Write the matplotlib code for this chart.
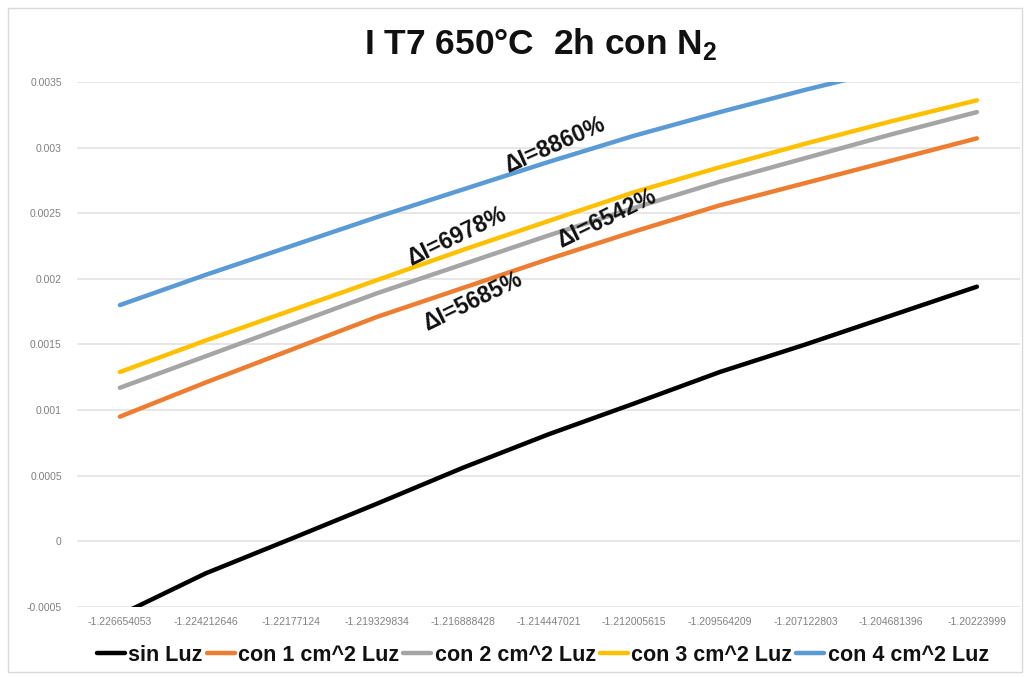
import matplotlib
matplotlib.use("Agg")
import matplotlib.pyplot as plt
from matplotlib.patches import Rectangle

# Applied potential (category labels) and measured current for each illumination area
potential = ["-1.226654053", "-1.224212646", "-1.22177124", "-1.219329834",
             "-1.216888428", "-1.214447021", "-1.212005615", "-1.209564209",
             "-1.207122803", "-1.204681396", "-1.20223999"]

sin_luz = [-0.00056, -0.000244, 0.00002, 0.000287, 0.00056, 0.000815,
           0.00105, 0.00129, 0.00150, 0.00172, 0.00194]
con_1cm2 = [0.00095, 0.00121, 0.00146, 0.00171, 0.00193, 0.00215,
            0.00236, 0.00256, 0.00273, 0.00290, 0.00307]
con_2cm2 = [0.00117, 0.00141, 0.00165, 0.00189, 0.00211, 0.00233,
            0.00254, 0.00274, 0.00292, 0.00310, 0.00327]
con_3cm2 = [0.00129, 0.00153, 0.00176, 0.00199, 0.00222, 0.00244,
            0.00266, 0.00285, 0.00303, 0.00320, 0.00336]
con_4cm2 = [0.00180, 0.00203, 0.00225, 0.00247, 0.00268, 0.00289,
            0.00309, 0.00327, 0.00344, 0.00360, 0.00375]

series_names = ["sin Luz", "con 1 cm^2 Luz", "con 2 cm^2 Luz",
                "con 3 cm^2 Luz", "con 4 cm^2 Luz"]
series_values = [sin_luz, con_1cm2, con_2cm2, con_3cm2, con_4cm2]
series_colors = ["#000000", "#ED7D31", "#A5A5A5", "#FFC000", "#5B9BD5"]

yticks = [-0.0005, 0, 0.0005, 0.001, 0.0015, 0.002, 0.0025, 0.003, 0.0035]
ytick_labels = ["-0.0005", "0", "0.0005", "0.001", "0.0015", "0.002",
                "0.0025", "0.003", "0.0035"]

plt.rcParams["font.family"] = ["Liberation Sans", "DejaVu Sans"]
plt.rcParams["mathtext.fontset"] = "custom"
plt.rcParams["mathtext.bf"] = "Liberation Sans:bold"
plt.rcParams["mathtext.rm"] = "Liberation Sans"

fig = plt.figure(figsize=(10.30, 6.77), dpi=100)
ax = fig.add_axes([0.0748, 0.1034, 0.9152, 0.7756])

xs = list(range(len(potential)))
handles = []
for name, vals, col in zip(series_names, series_values, series_colors):
    h, = ax.plot(xs, vals, color=col, lw=3.2, solid_capstyle="round",
                 solid_joinstyle="round", label=name, zorder=3)
    handles.append(h)

ax.set_xlim(-0.5, len(potential) - 0.5)
ax.set_ylim(-0.0005, 0.0035)
ax.set_yticks(yticks)
ax.set_yticklabels(ytick_labels)
ax.set_xticks(xs)
ax.set_xticklabels(potential)
ax.tick_params(axis="both", length=0, labelsize=7.5, colors="#808080")
ax.tick_params(axis="y", pad=11)
ax.tick_params(axis="x", pad=7)
ax.grid(axis="y", color="#e3e3e3", lw=1.2, zorder=0)
for s in ax.spines.values():
    s.set_visible(False)

# Current increase annotations
annot = [
    ("ΔI=8860%", 5.07, 0.00302, 24),
    ("ΔI=6978%", 3.93, 0.00232, 26),
    ("ΔI=6542%", 5.68, 0.00246, 26),
    ("ΔI=5685%", 4.12, 0.00183, 26),
]
for txt, x, y, rot in annot:
    ax.text(x, y, txt, rotation=rot, ha="center", va="center",
            fontsize=16.5, fontweight="bold", color="#111111", zorder=4,
            rotation_mode="anchor")

fig.text(0.525, 0.935, r"I T7 650°C  2h con N$_\mathbf{2}$", ha="center",
         va="center", fontsize=25.5, fontweight="bold", color="#111111")

fig.legend(handles=handles, labels=series_names, loc="center",
           bbox_to_anchor=(0.527, 0.032), ncol=5, frameon=False,
           prop={"weight": "bold", "size": 15.5}, handlelength=1.3,
           handletextpad=0.15, columnspacing=0.2, labelcolor="#111111")

fig.patches.append(Rectangle((0.008, 0.008), 0.984, 0.98, transform=fig.transFigure,
                             fill=False, edgecolor="#d9d9d9", lw=1.0))

fig.savefig("out.png", dpi=100, facecolor="white")
